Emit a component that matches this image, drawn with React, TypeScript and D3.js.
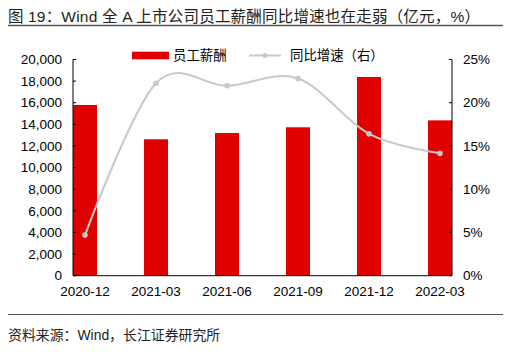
import React from "react";
import * as d3 from "d3";

const categories = ["2020-12", "2021-03", "2021-06", "2021-09", "2021-12", "2022-03"];
const salary = [15790, 12620, 13200, 13730, 18380, 14370];
const growth = [4.7, 22.25, 21.97, 22.8, 16.4, 14.15];
const leftTicks = [0, 2000, 4000, 6000, 8000, 10000, 12000, 14000, 16000, 18000, 20000];
const rightTicks = [0, 5, 10, 15, 20, 25];

const W = 507, H = 358;
const L = 73, R = 452, T = 59.5, B = 275.7;
const BAR_W = 24;
const FONT = "'Liberation Sans', Arial, 'Noto Sans CJK SC', sans-serif";
const RED = "#e00000";
const GRAY = "#c8c8c8";

export default function App() {
  const x = d3.scalePoint<string>().domain(categories).range([L + BAR_W / 2, R - BAR_W / 2]);
  const yL = d3.scaleLinear().domain([0, 20000]).range([B, T]);
  const yR = d3.scaleLinear().domain([0, 25]).range([B, T]);
  const fmt = d3.format(",");
  const line = d3
    .line<number>()
    .x((_, i) => x(categories[i]) as number)
    .y((d) => yR(d))
    .curve(d3.curveCardinal.tension(0));

  return (
    <svg width={W} height={H} style={{ position: "fixed", left: 0, top: 0, background: "#fff" }} fontFamily={FONT}>
      <rect width={W} height={H} fill="#fff" />
      <text x={8} y={21.5} fontSize={15.5} fill="#222">图</text>
      <text x={28} y={21.5} fontSize={15.5} fill="#222" textLength={452} lengthAdjust="spacing">19：Wind 全 A 上市公司员工薪酬同比增速也在走弱（亿元，%）</text>
      <line x1={8} x2={503} y1={25.5} y2={25.5} stroke="#555" strokeWidth={1.5} />

      {/* bars */}
      {salary.map((v, i) => (
        <rect key={i} x={(x(categories[i]) as number) - BAR_W / 2} y={yL(v)} width={BAR_W} height={B - yL(v)} fill={RED} />
      ))}

      {/* line */}
      <path d={line(growth) || ""} fill="none" stroke={GRAY} strokeWidth={2} />
      {growth.map((v, i) => (
        <circle key={i} cx={x(categories[i]) as number} cy={yR(v)} r={2.8} fill={GRAY} />
      ))}

      {/* axes */}
      <line x1={L} x2={L} y1={T} y2={B} stroke="#000" strokeWidth={1} />
      <line x1={R} x2={R} y1={T} y2={B} stroke="#000" strokeWidth={1} />
      <line x1={L} x2={R} y1={B} y2={B} stroke="#000" strokeWidth={1} />
      {leftTicks.map((t) => (
        <g key={t}>
          <line x1={L} x2={L + 3} y1={yL(t)} y2={yL(t)} stroke="#000" />
          <text x={62} y={yL(t)} dy="0.35em" textAnchor="end" fontSize={13.5}>{fmt(t)}</text>
        </g>
      ))}
      {rightTicks.map((t) => (
        <g key={t}>
          <line x1={R - 3} x2={R} y1={yR(t)} y2={yR(t)} stroke="#000" />
          <text x={463} y={yR(t)} dy="0.35em" textAnchor="start" fontSize={13.5}>{t}%</text>
        </g>
      ))}
      {categories.map((c) => (
        <text key={c} x={x(c) as number} y={296} textAnchor="middle" fontSize={13.5}>{c}</text>
      ))}

      {/* legend */}
      <rect x={132} y={51.7} width={37} height={7.6} fill={RED} />
      <text x={173} y={55.5} dy="0.35em" fontSize={13.4}>员工薪酬</text>
      <line x1={249} x2={281} y1={55.5} y2={55.5} stroke={GRAY} strokeWidth={2} />
      <circle cx={265} cy={55.5} r={2.5} fill={GRAY} />
      <text x={290} y={55.5} dy="0.35em" fontSize={13.4}>同比增速（右）</text>

      {/* footer */}
      <line x1={8} x2={503} y1={314.5} y2={314.5} stroke="#555" strokeWidth={1} />
      <text x={8} y={340} fontSize={13.9} fill="#222">资料来源：Wind，长江证券研究所</text>
    </svg>
  );
}
